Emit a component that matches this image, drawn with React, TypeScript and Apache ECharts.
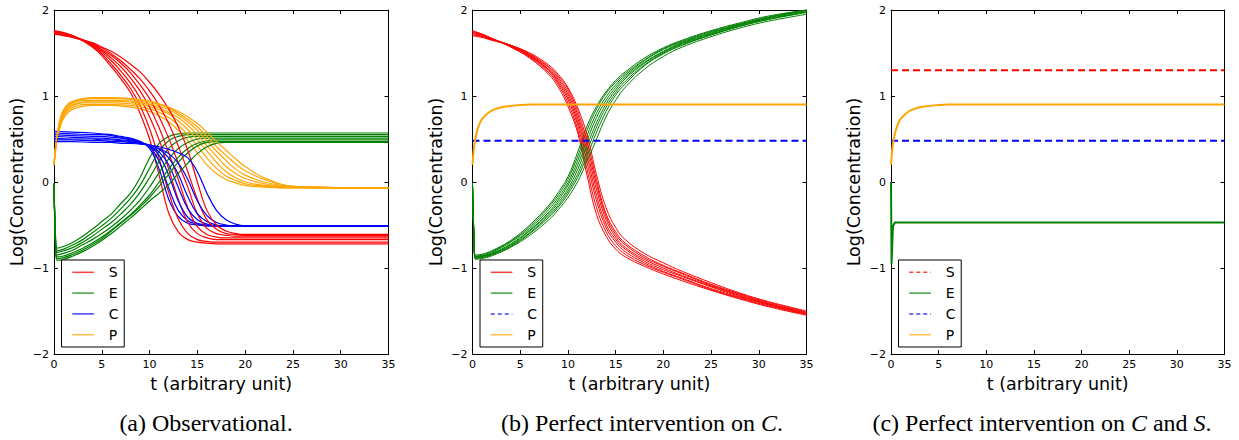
import React, { useEffect, useRef } from "react";
import * as echarts from "echarts";

// ---------- Panel (a): observational, 7 trajectories per species ----------
const TA = [0, 2, 4, 5, 6, 7, 8, 9, 10, 11, 12, 13, 14, 15, 16, 17, 18, 19, 20, 25, 35];
const obsS = [
  [1.76, 1.70, 1.57, 1.47, 1.34, 1.20, 1.04, 0.80, 0.50, 0.08, -0.36, -0.58, -0.67, -0.70, -0.71, -0.72, -0.72, -0.72, -0.72, -0.72, -0.72],
  [1.75, 1.70, 1.58, 1.49, 1.37, 1.24, 1.09, 0.89, 0.62, 0.27, -0.12, -0.43, -0.60, -0.67, -0.69, -0.70, -0.70, -0.70, -0.70, -0.70, -0.70],
  [1.75, 1.69, 1.59, 1.51, 1.41, 1.29, 1.15, 0.98, 0.76, 0.49, 0.15, -0.20, -0.47, -0.60, -0.65, -0.67, -0.67, -0.67, -0.67, -0.67, -0.67],
  [1.74, 1.69, 1.60, 1.53, 1.44, 1.34, 1.21, 1.06, 0.87, 0.63, 0.34, 0.03, -0.30, -0.52, -0.61, -0.64, -0.65, -0.65, -0.65, -0.65, -0.65],
  [1.74, 1.69, 1.61, 1.54, 1.47, 1.38, 1.27, 1.13, 0.97, 0.76, 0.51, 0.22, -0.06, -0.37, -0.54, -0.60, -0.62, -0.63, -0.63, -0.63, -0.63],
  [1.73, 1.68, 1.61, 1.56, 1.49, 1.41, 1.31, 1.20, 1.06, 0.89, 0.68, 0.42, 0.12, -0.20, -0.44, -0.55, -0.60, -0.61, -0.62, -0.62, -0.62],
  [1.72, 1.68, 1.62, 1.57, 1.52, 1.45, 1.37, 1.28, 1.16, 1.02, 0.85, 0.64, 0.37, 0.00, -0.33, -0.50, -0.57, -0.60, -0.61, -0.61, -0.61],
];
const obsC = [
  [0.59, 0.58, 0.57, 0.56, 0.55, 0.53, 0.51, 0.47, 0.39, 0.15, -0.20, -0.40, -0.48, -0.50, -0.51, -0.51, -0.51, -0.51, -0.51, -0.51, -0.51],
  [0.57, 0.56, 0.55, 0.55, 0.54, 0.52, 0.50, 0.47, 0.41, 0.24, -0.07, -0.33, -0.45, -0.49, -0.51, -0.51, -0.51, -0.51, -0.51, -0.51, -0.51],
  [0.55, 0.54, 0.53, 0.53, 0.52, 0.51, 0.49, 0.46, 0.42, 0.31, 0.08, -0.22, -0.41, -0.48, -0.50, -0.51, -0.51, -0.51, -0.51, -0.51, -0.51],
  [0.53, 0.52, 0.51, 0.51, 0.50, 0.49, 0.48, 0.46, 0.42, 0.35, 0.20, -0.06, -0.31, -0.44, -0.49, -0.51, -0.51, -0.51, -0.51, -0.51, -0.51],
  [0.51, 0.50, 0.50, 0.49, 0.49, 0.48, 0.47, 0.45, 0.43, 0.38, 0.28, 0.09, -0.17, -0.37, -0.46, -0.50, -0.51, -0.51, -0.51, -0.51, -0.51],
  [0.49, 0.49, 0.48, 0.48, 0.47, 0.47, 0.46, 0.45, 0.43, 0.39, 0.33, 0.22, 0.03, -0.22, -0.39, -0.47, -0.50, -0.51, -0.51, -0.51, -0.51],
  [0.47, 0.47, 0.46, 0.46, 0.46, 0.45, 0.45, 0.44, 0.43, 0.41, 0.38, 0.34, 0.28, 0.12, -0.13, -0.33, -0.44, -0.49, -0.51, -0.51, -0.51],
];
const TA_E = [0, 0.15, 0.3, 1, 2, 3, 4, 5, 6, 7, 8, 9, 10, 11, 12, 13, 14, 15, 16, 17, 18, 20, 25, 35];
const obsE = [
  [-0.02, -0.60, -0.77, -0.75, -0.70, -0.63, -0.55, -0.46, -0.37, -0.25, -0.13, 0.05, 0.28, 0.45, 0.53, 0.56, 0.57, 0.57, 0.57, 0.57, 0.57, 0.57, 0.57, 0.57],
  [-0.02, -0.62, -0.80, -0.78, -0.73, -0.67, -0.59, -0.51, -0.42, -0.31, -0.19, -0.04, 0.16, 0.36, 0.48, 0.53, 0.55, 0.55, 0.55, 0.55, 0.55, 0.55, 0.55, 0.55],
  [-0.02, -0.64, -0.82, -0.80, -0.76, -0.70, -0.63, -0.55, -0.47, -0.37, -0.26, -0.12, 0.05, 0.24, 0.39, 0.48, 0.52, 0.53, 0.53, 0.53, 0.53, 0.53, 0.53, 0.53],
  [-0.02, -0.66, -0.85, -0.83, -0.79, -0.73, -0.67, -0.60, -0.52, -0.43, -0.33, -0.21, -0.06, 0.11, 0.27, 0.39, 0.46, 0.50, 0.51, 0.51, 0.51, 0.51, 0.51, 0.51],
  [-0.02, -0.67, -0.87, -0.86, -0.82, -0.77, -0.71, -0.64, -0.56, -0.47, -0.38, -0.27, -0.15, 0.00, 0.15, 0.29, 0.39, 0.45, 0.48, 0.49, 0.49, 0.49, 0.49, 0.49],
  [-0.02, -0.69, -0.89, -0.88, -0.84, -0.79, -0.73, -0.66, -0.57, -0.48, -0.39, -0.29, -0.18, -0.05, 0.09, 0.23, 0.34, 0.42, 0.46, 0.47, 0.47, 0.47, 0.47, 0.47],
  [-0.02, -0.70, -0.91, -0.90, -0.86, -0.81, -0.75, -0.68, -0.60, -0.51, -0.42, -0.32, -0.22, -0.13, -0.03, 0.10, 0.22, 0.33, 0.41, 0.45, 0.46, 0.46, 0.46, 0.46],
];
const TA_P = [0, 0.3, 0.7, 1, 1.5, 2, 3, 4, 6, 8, 10, 11, 12, 13, 14, 15, 16, 17, 18, 19, 20, 22, 25, 35];
const obsP = [
  [0.2, 0.48, 0.66, 0.74, 0.81, 0.85, 0.88, 0.89, 0.89, 0.87, 0.82, 0.77, 0.70, 0.60, 0.48, 0.34, 0.20, 0.10, 0.03, -0.01, -0.04, -0.06, -0.07, -0.07],
  [0.2, 0.49, 0.68, 0.76, 0.83, 0.87, 0.90, 0.90, 0.90, 0.89, 0.85, 0.81, 0.75, 0.66, 0.55, 0.42, 0.28, 0.16, 0.07, 0.02, -0.02, -0.05, -0.07, -0.07],
  [0.2, 0.50, 0.70, 0.78, 0.85, 0.89, 0.92, 0.92, 0.92, 0.91, 0.88, 0.84, 0.79, 0.71, 0.61, 0.49, 0.36, 0.23, 0.12, 0.05, 0.00, -0.04, -0.06, -0.07],
  [0.2, 0.51, 0.71, 0.80, 0.87, 0.90, 0.93, 0.94, 0.94, 0.93, 0.90, 0.86, 0.81, 0.75, 0.66, 0.55, 0.42, 0.30, 0.18, 0.10, 0.04, -0.02, -0.06, -0.07],
  [0.2, 0.52, 0.73, 0.81, 0.88, 0.92, 0.95, 0.95, 0.95, 0.94, 0.91, 0.88, 0.84, 0.78, 0.70, 0.60, 0.48, 0.36, 0.25, 0.15, 0.08, 0.00, -0.05, -0.07],
  [0.2, 0.53, 0.74, 0.83, 0.90, 0.93, 0.96, 0.97, 0.97, 0.96, 0.93, 0.90, 0.86, 0.80, 0.73, 0.64, 0.53, 0.41, 0.31, 0.21, 0.13, 0.03, -0.05, -0.07],
  [0.2, 0.54, 0.76, 0.84, 0.91, 0.94, 0.97, 0.98, 0.98, 0.97, 0.94, 0.91, 0.87, 0.82, 0.76, 0.68, 0.58, 0.47, 0.37, 0.27, 0.18, 0.05, -0.05, -0.07],
];

// ---------- Panel (b): perfect intervention on C, 8 trajectories for S and E ----------
const TB = [0, 1, 2, 4, 6, 8, 9, 10, 11, 12, 13, 14, 15, 16, 18, 20, 22, 25, 28, 31, 35];
const intS = [
  [1.76, 1.72, 1.67, 1.57, 1.44, 1.25, 1.10, 0.88, 0.58, 0.08, -0.38, -0.63, -0.78, -0.87, -0.98, -1.07, -1.15, -1.26, -1.36, -1.45, -1.55],
  [1.75, 1.72, 1.67, 1.57, 1.45, 1.27, 1.13, 0.92, 0.62, 0.15, -0.30, -0.58, -0.74, -0.84, -0.96, -1.05, -1.13, -1.25, -1.35, -1.44, -1.54],
  [1.75, 1.71, 1.67, 1.58, 1.46, 1.29, 1.15, 0.96, 0.67, 0.23, -0.22, -0.53, -0.70, -0.81, -0.94, -1.04, -1.12, -1.24, -1.34, -1.43, -1.54],
  [1.74, 1.71, 1.67, 1.58, 1.47, 1.30, 1.17, 0.99, 0.71, 0.30, -0.16, -0.49, -0.67, -0.78, -0.92, -1.02, -1.10, -1.22, -1.33, -1.42, -1.53],
  [1.73, 1.70, 1.66, 1.58, 1.47, 1.31, 1.19, 1.02, 0.75, 0.36, -0.09, -0.44, -0.64, -0.76, -0.90, -1.00, -1.09, -1.21, -1.32, -1.42, -1.52],
  [1.72, 1.69, 1.66, 1.59, 1.48, 1.33, 1.21, 1.05, 0.79, 0.42, -0.03, -0.40, -0.61, -0.73, -0.88, -0.98, -1.07, -1.20, -1.31, -1.41, -1.52],
  [1.71, 1.69, 1.65, 1.59, 1.49, 1.34, 1.23, 1.08, 0.83, 0.48, 0.02, -0.37, -0.58, -0.71, -0.86, -0.97, -1.06, -1.19, -1.30, -1.40, -1.51],
  [1.70, 1.68, 1.65, 1.59, 1.50, 1.36, 1.25, 1.10, 0.87, 0.55, 0.08, -0.30, -0.53, -0.67, -0.83, -0.94, -1.04, -1.17, -1.29, -1.39, -1.50],
];
const TB_E = [0, 0.15, 0.3, 1, 2, 4, 6, 8, 9, 10, 11, 12, 13, 14, 15, 16, 18, 20, 22, 25, 28, 31, 35];
const intE = [
  [-0.02, -0.60, -0.85, -0.84, -0.80, -0.68, -0.50, -0.27, -0.12, 0.06, 0.34, 0.65, 0.88, 1.05, 1.18, 1.28, 1.44, 1.56, 1.65, 1.76, 1.85, 1.93, 2.0],
  [-0.02, -0.61, -0.86, -0.85, -0.81, -0.69, -0.52, -0.29, -0.15, 0.03, 0.29, 0.60, 0.85, 1.03, 1.16, 1.26, 1.42, 1.55, 1.64, 1.75, 1.84, 1.92, 2.0],
  [-0.02, -0.62, -0.87, -0.86, -0.82, -0.70, -0.54, -0.32, -0.18, -0.01, 0.24, 0.54, 0.80, 0.99, 1.13, 1.24, 1.41, 1.54, 1.63, 1.74, 1.83, 1.91, 2.0],
  [-0.02, -0.62, -0.87, -0.86, -0.83, -0.72, -0.56, -0.35, -0.21, -0.04, 0.19, 0.48, 0.75, 0.95, 1.10, 1.22, 1.39, 1.52, 1.62, 1.73, 1.83, 1.91, 1.99],
  [-0.02, -0.63, -0.88, -0.87, -0.84, -0.73, -0.57, -0.37, -0.24, -0.08, 0.14, 0.42, 0.69, 0.91, 1.07, 1.20, 1.38, 1.51, 1.61, 1.72, 1.82, 1.90, 1.98],
  [-0.02, -0.63, -0.88, -0.87, -0.84, -0.74, -0.59, -0.39, -0.27, -0.11, 0.09, 0.36, 0.64, 0.87, 1.04, 1.17, 1.36, 1.50, 1.60, 1.71, 1.81, 1.89, 1.98],
  [-0.02, -0.64, -0.89, -0.88, -0.85, -0.75, -0.60, -0.41, -0.29, -0.14, 0.05, 0.30, 0.58, 0.82, 1.01, 1.14, 1.35, 1.49, 1.59, 1.71, 1.81, 1.89, 1.97],
  [-0.02, -0.65, -0.90, -0.89, -0.86, -0.76, -0.62, -0.44, -0.32, -0.18, 0.00, 0.24, 0.50, 0.76, 0.95, 1.10, 1.31, 1.46, 1.57, 1.69, 1.79, 1.87, 1.95],
];
// P rises to a plateau (panels b and c)
const T_P1 = [0, 0.15, 0.3, 0.5, 0.75, 1, 1.5, 2, 3, 4, 5, 6, 8, 35];
const P1 = [0.2, 0.4, 0.5, 0.6, 0.68, 0.73, 0.79, 0.83, 0.87, 0.885, 0.895, 0.9, 0.9, 0.9];
// clamped levels
const T_FLAT = [0, 35];
const C_FIXED = [0.48, 0.48];
const S_FIXED = [1.3, 1.3];
// panel (c) E
const T_E2 = [0, 0.06, 0.2, 0.4, 35];
const E2 = [0.0, -0.95, -0.52, -0.47, -0.47];

const X_TICKS_MAX = 35;
const CAPTIONS = ["(a) Observational.", "(b) Perfect intervention on {i|C}.", "(c) Perfect intervention on {i|C} and {i|S}."];

const COL = { S: "#ff0000", E: "#008000", C: "#0000ff", P: "#ffa500" };
const GRID_LEFT = [54, 472.5, 891];
const GRID_W = [334.5, 334, 333.5];
const CAPTION_X = [206, 642, 1042];
const SUFFIX = ["", " ", "  "];
const FONT = "DejaVu Sans";
const DASH = [7, 4];

function line(name: string, times: number[], vals: number[], color: string, g: number, width: number, dashed = false, smooth = true) {
  return {
    type: "line",
    name,
    xAxisIndex: 2 * g,
    yAxisIndex: 2 * g,
    data: times.map((t, i) => [t, vals[i]]),
    symbol: "none",
    showSymbol: false,
    smooth: smooth ? 0.4 : false,
    silent: true,
    clip: true,
    lineStyle: { color, width, type: dashed ? DASH : "solid" },
    itemStyle: { color },
  };
}

function buildOption() {
  const series: any[] = [];
  // panel a
  for (let k = 0; k < obsS.length; k++) {
    series.push(line("S", TA, obsS[k], COL.S, 0, 1.2));
    series.push(line("E", TA_E, obsE[k], COL.E, 0, 1.2));
    series.push(line("C", TA, obsC[k], COL.C, 0, 1.2));
    series.push(line("P", TA_P, obsP[k], COL.P, 0, 1.2));
  }
  // panel b
  for (let j = 0; j < intS.length; j++) {
    series.push(line("S ", TB, intS[j], COL.S, 1, 1.0));
    series.push(line("E ", TB_E, intE[j], COL.E, 1, 1.0));
  }
  series.push(line("C ", T_FLAT, C_FIXED, COL.C, 1, 2, true, false));
  series.push(line("P ", T_P1, P1, COL.P, 1, 2));
  // panel c
  series.push(line("S  ", T_FLAT, S_FIXED, COL.S, 2, 2, true, false));
  series.push(line("E  ", T_E2, E2, COL.E, 2, 2, false, false));
  series.push(line("C  ", T_FLAT, C_FIXED, COL.C, 2, 2, true, false));
  series.push(line("P  ", T_P1, P1, COL.P, 2, 2));

  const axisCommon = {
    axisLine: { show: true, onZero: false, lineStyle: { color: "#000", width: 1 } },
    axisTick: { show: true, inside: true, length: 4, lineStyle: { color: "#000", width: 1 } },
    splitLine: { show: false },
  };
  const xAxis: any[] = [];
  const yAxis: any[] = [];
  for (let g = 0; g < 3; g++) {
    xAxis.push({
      ...axisCommon,
      type: "value", gridIndex: g, min: 0, max: X_TICKS_MAX, interval: 5, position: "bottom",
      axisLabel: { show: true, margin: 5, color: "#000", fontSize: 11, fontFamily: FONT },
      name: "t (arbitrary unit)", nameLocation: "middle", nameGap: 21,
      nameTextStyle: { color: "#000", fontSize: 17.5, fontFamily: FONT },
    });
    xAxis.push({
      ...axisCommon,
      type: "value", gridIndex: g, min: 0, max: X_TICKS_MAX, interval: 5, position: "top",
      axisLabel: { show: false },
    });
    yAxis.push({
      ...axisCommon,
      type: "value", gridIndex: g, min: -2, max: 2, interval: 1, position: "left",
      axisLabel: {
        show: true, margin: 5, color: "#000", fontSize: 11, fontFamily: FONT,
        formatter: (v: number) => (v < 0 ? "\u2212" + Math.abs(v) : String(v)),
      },
      name: "Log(Concentration)", nameLocation: "middle", nameGap: 28, nameRotate: 90,
      nameTextStyle: { color: "#000", fontSize: 17.5, fontFamily: FONT },
    });
    yAxis.push({
      ...axisCommon,
      type: "value", gridIndex: g, min: -2, max: 2, interval: 1, position: "right",
      axisLabel: { show: false },
    });
  }

  const legendStyles = [
    { S: false, E: false, C: false, P: false },
    { S: false, E: false, C: true, P: false },
    { S: true, E: false, C: true, P: false },
  ];
  const legend = [0, 1, 2].map((g) => ({
    data: (["S", "E", "C", "P"] as const).map((n) => ({
      name: n + SUFFIX[g],
      itemStyle: { opacity: 0, borderWidth: 0 },
      lineStyle: { color: COL[n], width: 1.5, type: legendStyles[g][n] ? [4, 3] : "solid", opacity: 0.75 },
    })),
    orient: "vertical",
    left: GRID_LEFT[g] + 7.5,
    top: 260,
    itemWidth: 21.6,
    itemHeight: 14,
    itemGap: 6.8,
    padding: [5.3, 5.6, 5.3, 10],
    borderColor: "#000",
    borderWidth: 1,
    borderRadius: 0,
    backgroundColor: "#fff",
    selectedMode: false,
    align: "left",
    itemStyle: { opacity: 0, borderWidth: 0 },
    formatter: (name: string) => name.trim(),
    textStyle: { fontSize: 14, fontFamily: FONT, color: "#000", padding: [0, 0, 0, 10] },
  }));

  const graphic = CAPTIONS.map((txt, g) => ({
    type: "text",
    x: CAPTION_X[g],
    y: 423,
    silent: true,
    style: {
      text: txt,
      align: "center",
      verticalAlign: "middle",
      textAlign: "center",
      textVerticalAlign: "middle",
      fontSize: 24,
      fontFamily: "Liberation Serif",
      fill: "#000",
      rich: {
        i: { fontSize: 24, fontFamily: "Liberation Serif", fontStyle: "italic", fill: "#000" },
      },
    },
  }));

  return {
    animation: false,
    backgroundColor: "#fff",
    grid: GRID_LEFT.map((l, i) => ({ left: l, top: 10, width: GRID_W[i], height: 344 })),
    xAxis,
    yAxis,
    legend,
    series,
    graphic,
  };
}

export default function App() {
  const ref = useRef<HTMLDivElement>(null);
  useEffect(() => {
    if (!ref.current) return;
    const chart = echarts.init(ref.current, null, { renderer: "svg" });
    chart.setOption(buildOption() as any);
    return () => chart.dispose();
  }, []);
  return (
    <div
      ref={ref}
      style={{ position: "fixed", left: 0, top: 0, width: 1239, height: 440, background: "#fff" }}
    />
  );
}
